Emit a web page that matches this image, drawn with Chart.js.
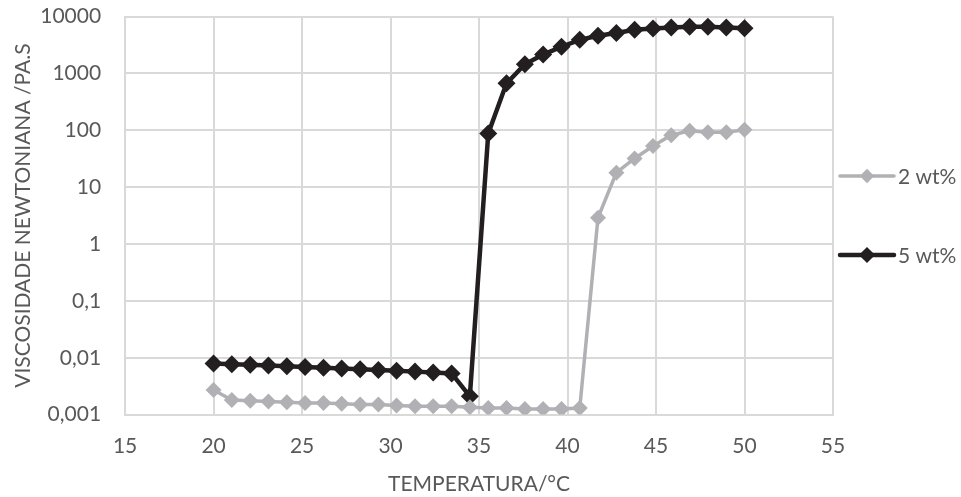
<!DOCTYPE html>
<html>
<head>
<meta charset="utf-8">
<script src="https://cdn.jsdelivr.net/npm/chart.js@4.4.1/dist/chart.umd.min.js"></script>
<style>
  html, body { margin: 0; padding: 0; background: #fff; }
  #wrap { width: 961px; height: 497px; }
</style>
</head>
<body>
<div id="wrap"><canvas id="chart" width="961" height="497"></canvas></div>
<script>
// temperature (°C) of each measured point
const temps = [20, 21.03, 22.07, 23.1, 24.14, 25.17, 26.21, 27.24, 28.28, 29.31,
  30.34, 31.38, 32.41, 33.45, 34.48, 35.52, 36.55, 37.59, 38.62, 39.66,
  40.69, 41.72, 42.76, 43.79, 44.83, 45.86, 46.9, 47.93, 48.97, 50];

// newtonian viscosity (Pa.s)
const visc2 = [0.0027, 0.0018, 0.00175, 0.0017, 0.00165, 0.0016, 0.0016, 0.00155, 0.0015, 0.0015,
  0.00145, 0.0014, 0.0014, 0.0014, 0.00135, 0.0013, 0.0013, 0.00125, 0.00125, 0.00125,
  0.0013, 2.9, 18, 32, 53, 82, 98, 92, 92, 102];
const visc5 = [0.0079, 0.0077, 0.0075, 0.0073, 0.0071, 0.0069, 0.0067, 0.0065, 0.0063, 0.0061,
  0.0059, 0.0057, 0.0055, 0.0053, 0.0021, 88, 670, 1450, 2150, 2950,
  3900, 4600, 5150, 5850, 6200, 6400, 6650, 6650, 6400, 6250];

const seriesNames = ['2 wt%', '5 wt%'];
const yTicks = [0.001, 0.01, 0.1, 1, 10, 100, 1000, 10000];
const yTickLabels = ['0,001', '0,01', '0,1', '1', '10', '100', '1000', '10000'];

const textColor = '#595959';
const gridColor = '#d9d9d9';
const fontFamily = 'Lato, "Open Sans", sans-serif';
const fontSize = 21;

function points(ys) {
  return temps.map((t, i) => ({ x: t, y: ys[i] }));
}

// legend drawn at the right, line + diamond like the original
const sideLegend = {
  id: 'sideLegend',
  afterDraw(chart) {
    const ctx = chart.ctx;
    const rows = [176, 255];
    chart.data.datasets.forEach((ds, i) => {
      const y = rows[i];
      const x0 = 840, x1 = 894;
      ctx.save();
      ctx.strokeStyle = ds.borderColor;
      ctx.lineWidth = ds.borderWidth;
      ctx.lineCap = 'round';
      ctx.beginPath();
      ctx.moveTo(x0, y);
      ctx.lineTo(x1, y);
      ctx.stroke();
      const cx = (x0 + x1) / 2, r = ds.pointRadius * 0.9;
      ctx.fillStyle = ds.pointBackgroundColor;
      ctx.beginPath();
      ctx.moveTo(cx, y - r);
      ctx.lineTo(cx + r, y);
      ctx.lineTo(cx, y + r);
      ctx.lineTo(cx - r, y);
      ctx.closePath();
      ctx.fill();
      ctx.fillStyle = textColor;
      ctx.font = fontSize + 'px ' + fontFamily;
      ctx.textBaseline = 'middle';
      ctx.fillText(seriesNames[i], x1 + 4, y + 1);
      ctx.restore();
    });
  }
};

new Chart(document.getElementById('chart'), {
  type: 'line',
  data: {
    datasets: [
      {
        label: seriesNames[0],
        data: points(visc2),
        borderColor: '#b1b1b5',
        backgroundColor: '#b1b1b5',
        pointBackgroundColor: '#b1b1b5',
        pointBorderWidth: 0,
        borderWidth: 3.5,
        pointStyle: 'rectRot',
        pointRadius: 8,
        tension: 0
      },
      {
        label: seriesNames[1],
        data: points(visc5),
        borderColor: '#231f20',
        backgroundColor: '#231f20',
        pointBackgroundColor: '#231f20',
        pointBorderWidth: 0,
        borderWidth: 4.5,
        pointStyle: 'rectRot',
        pointRadius: 9,
        tension: 0
      }
    ]
  },
  plugins: [sideLegend],
  options: {
    responsive: false,
    animation: false,
    layout: { padding: { left: 3, right: 128, top: 0, bottom: 0 } },
    plugins: {
      legend: { display: false },
      tooltip: { enabled: false }
    },
    scales: {
      x: {
        type: 'linear',
        min: 15,
        max: 55,
        ticks: { stepSize: 5, color: textColor, font: { family: fontFamily, size: fontSize }, padding: 4 },
        grid: { color: gridColor, lineWidth: 2, drawTicks: true, tickLength: 15, tickColor: 'rgba(0,0,0,0)' },
        border: { color: gridColor, width: 2 },
        title: { display: true, text: 'TEMPERATURA/°C', color: textColor, font: { family: fontFamily, size: fontSize }, padding: { top: 9, bottom: 0 } }
      },
      y: {
        type: 'logarithmic',
        min: 0.001,
        max: 10000,
        afterBuildTicks(scale) {
          scale.ticks = yTicks.map(v => ({ value: v }));
        },
        ticks: {
          color: textColor,
          font: { family: fontFamily, size: fontSize },
          padding: 4,
          callback(value) {
            const i = yTicks.findIndex(t => Math.abs(t - value) / t < 1e-6);
            return i >= 0 ? yTickLabels[i] : '';
          }
        },
        grid: { color: gridColor, lineWidth: 2, drawTicks: true, tickLength: 20, tickColor: 'rgba(0,0,0,0)' },
        border: { color: gridColor, width: 2 },
        title: { display: true, text: 'VISCOSIDADE NEWTONIANA /PA.S', color: textColor, font: { family: fontFamily, size: fontSize }, padding: { top: 8, bottom: 0 } }
      }
    }
  }
});
</script>
</body>
</html>
